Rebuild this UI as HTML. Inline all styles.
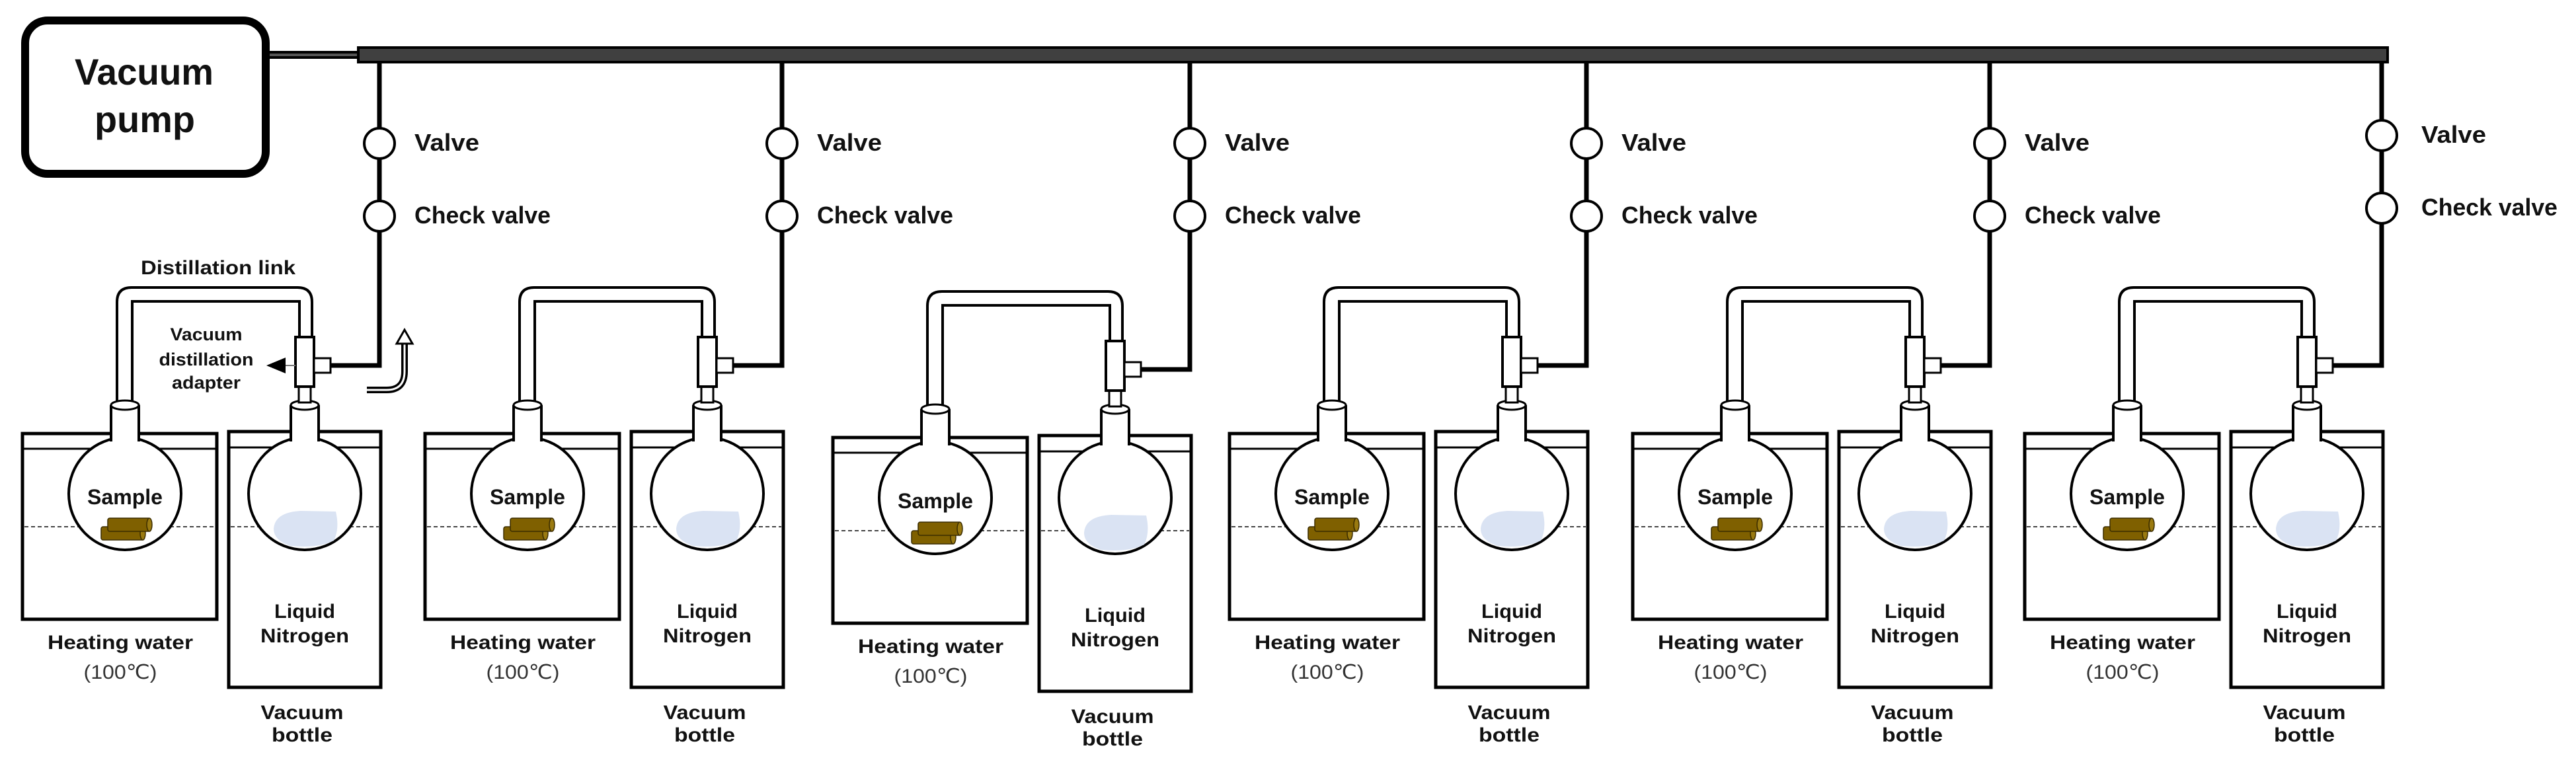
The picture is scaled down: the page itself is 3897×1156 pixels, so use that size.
<!DOCTYPE html>
<html><head><meta charset="utf-8"><style>
html,body{margin:0;padding:0;background:#fff;}
svg{display:block;}
text{font-family:"Liberation Sans",Arial,sans-serif;font-weight:bold;fill:#111;}
.n{font-weight:normal;fill:#333;}
</style></head><body>
<svg width="3897" height="1156" viewBox="0 0 3897 1156" xmlns="http://www.w3.org/2000/svg">
<defs>
<g id="body">
  <path d="M500,553 H574 V95" fill="none" stroke="#000" stroke-width="7"/>
  <rect x="34" y="656" width="294" height="281" fill="#fff" stroke="#000" stroke-width="5"/>
  <line x1="36" y1="679" x2="326" y2="679" stroke="#000" stroke-width="3"/>
  <line x1="37" y1="797" x2="325" y2="797" stroke="#444" stroke-width="2" stroke-dasharray="6,4"/>
  <rect x="346" y="653" width="230" height="387" fill="#fff" stroke="#000" stroke-width="5"/>
  <line x1="348" y1="677" x2="574" y2="677" stroke="#000" stroke-width="3"/>
  <line x1="349" y1="797" x2="573" y2="797" stroke="#444" stroke-width="2" stroke-dasharray="6,4"/>
  <path d="M177,613 V457 Q177,435 199,435 H450 Q472,435 472,457 V512" fill="none" stroke="#000" stroke-width="4"/>
  <path d="M200,613 V456 H453 V512" fill="none" stroke="#000" stroke-width="4"/>
  <circle cx="189" cy="747" r="85" fill="#fff" stroke="#000" stroke-width="4"/>
  <rect x="169" y="613" width="40" height="58" fill="#fff"/>
  <path d="M168,668 V613 M210,613 V668" stroke="#000" stroke-width="4" fill="none"/>
  <ellipse cx="189" cy="613" rx="21" ry="7" fill="#fff" stroke="#000" stroke-width="3"/>
  <circle cx="461" cy="747" r="85" fill="#fff" stroke="#000" stroke-width="4"/>
  <rect x="441" y="613" width="40" height="58" fill="#fff"/>
  <path d="M440,668 V613 M482,613 V668" stroke="#000" stroke-width="4" fill="none"/>
  <ellipse cx="461" cy="613" rx="21" ry="7" fill="#fff" stroke="#000" stroke-width="3"/>
  <rect x="452" y="585" width="18" height="24" fill="#fff" stroke="#000" stroke-width="3"/>
  <rect x="447" y="510" width="28" height="75" fill="#fff" stroke="#000" stroke-width="4"/>
  <rect x="475" y="542" width="25" height="22" fill="#fff" stroke="#000" stroke-width="3"/>
  <path d="M414,800 Q416,775 455,773 L508,774 Q514,800 505,818 Q480,830 440,826 Q414,818 414,800 Z" fill="#dae3f3"/>
  <rect x="153" y="797" width="65" height="20" rx="3" fill="#7f6000" stroke="#3a2c00" stroke-width="1.5"/>
  <ellipse cx="216" cy="807" rx="4" ry="10" fill="#9a7a10" stroke="#3a2c00" stroke-width="1.5"/>
  <rect x="163" y="784" width="65" height="20" rx="3" fill="#7f6000" stroke="#3a2c00" stroke-width="1.5"/>
  <ellipse cx="226" cy="794" rx="4" ry="10" fill="#9a7a10" stroke="#3a2c00" stroke-width="1.5"/>
</g>
<g id="valves">
  <circle cx="574" cy="217" r="23" fill="#fff" stroke="#000" stroke-width="4"/>
  <circle cx="574" cy="327" r="23" fill="#fff" stroke="#000" stroke-width="4"/>
</g>
</defs>

<rect x="38" y="31" width="364" height="232" rx="34" fill="#fff" stroke="#000" stroke-width="12"/>
<text x="113" y="128" font-size="56" textLength="210" lengthAdjust="spacingAndGlyphs">Vacuum</text>
<text x="143" y="200" font-size="56" textLength="152" lengthAdjust="spacingAndGlyphs">pump</text>
<rect x="408" y="77" width="134" height="12" fill="#000"/>
<rect x="408" y="81" width="134" height="4" fill="#555"/>
<rect x="1796.5" y="90" width="7" height="20" fill="#000"/>
<rect x="542" y="72" width="3070" height="22" fill="#404040" stroke="#000" stroke-width="4"/>

<use href="#body" x="0" y="0"/>
<use href="#valves" x="0" y="0"/>
<use href="#body" x="609" y="0"/>
<use href="#valves" x="609" y="0"/>
<use href="#body" x="1226" y="6"/>
<use href="#valves" x="1226" y="0"/>
<use href="#body" x="1826" y="0"/>
<use href="#valves" x="1826" y="0"/>
<use href="#body" x="2436" y="0"/>
<use href="#valves" x="2436" y="0"/>
<use href="#body" x="3029" y="0"/>
<use href="#valves" x="3029" y="-12"/>

<text x="213" y="415" font-size="30" textLength="234" lengthAdjust="spacingAndGlyphs">Distillation link</text>
<text x="312" y="515" font-size="27" text-anchor="middle" textLength="109" lengthAdjust="spacingAndGlyphs">Vacuum</text>
<text x="312" y="553" font-size="27" text-anchor="middle" textLength="143" lengthAdjust="spacingAndGlyphs">distillation</text>
<text x="312" y="588" font-size="27" text-anchor="middle" textLength="104" lengthAdjust="spacingAndGlyphs">adapter</text>
<line x1="447" y1="553" x2="428" y2="553" stroke="#777" stroke-width="2"/>
<polygon points="403,553 432,541 432,565" fill="#000"/>
<path d="M555,590 H585 Q612,590 612,562 V518" fill="none" stroke="#000" stroke-width="10"/>
<path d="M555,590 H585 Q612,590 612,562 V518" fill="none" stroke="#fff" stroke-width="3"/>
<polygon points="612,499 600,520 624,520" fill="#fff" stroke="#000" stroke-width="3"/>

<g>
<text x="627" y="228" font-size="36" textLength="98" lengthAdjust="spacingAndGlyphs">Valve</text>
<text x="627" y="338" font-size="36" textLength="206" lengthAdjust="spacingAndGlyphs">Check valve</text>
<text x="189" y="763" font-size="32" text-anchor="middle" textLength="114" lengthAdjust="spacingAndGlyphs">Sample</text>
<text x="182" y="982" font-size="30" text-anchor="middle" textLength="220" lengthAdjust="spacingAndGlyphs">Heating water</text>
<text class="n" x="182" y="1027" font-size="30" text-anchor="middle" textLength="111" lengthAdjust="spacingAndGlyphs">(100℃)</text>
<text x="461" y="935" font-size="30" text-anchor="middle" textLength="92" lengthAdjust="spacingAndGlyphs">Liquid</text>
<text x="461" y="972" font-size="30" text-anchor="middle" textLength="134" lengthAdjust="spacingAndGlyphs">Nitrogen</text>
<text x="457" y="1088" font-size="30" text-anchor="middle" textLength="125" lengthAdjust="spacingAndGlyphs">Vacuum</text>
<text x="457" y="1122" font-size="30" text-anchor="middle" textLength="92" lengthAdjust="spacingAndGlyphs">bottle</text>
</g>
<g transform="translate(609,0)">
<text x="627" y="228" font-size="36" textLength="98" lengthAdjust="spacingAndGlyphs">Valve</text>
<text x="627" y="338" font-size="36" textLength="206" lengthAdjust="spacingAndGlyphs">Check valve</text>
<text x="189" y="763" font-size="32" text-anchor="middle" textLength="114" lengthAdjust="spacingAndGlyphs">Sample</text>
<text x="182" y="982" font-size="30" text-anchor="middle" textLength="220" lengthAdjust="spacingAndGlyphs">Heating water</text>
<text class="n" x="182" y="1027" font-size="30" text-anchor="middle" textLength="111" lengthAdjust="spacingAndGlyphs">(100℃)</text>
<text x="461" y="935" font-size="30" text-anchor="middle" textLength="92" lengthAdjust="spacingAndGlyphs">Liquid</text>
<text x="461" y="972" font-size="30" text-anchor="middle" textLength="134" lengthAdjust="spacingAndGlyphs">Nitrogen</text>
<text x="457" y="1088" font-size="30" text-anchor="middle" textLength="125" lengthAdjust="spacingAndGlyphs">Vacuum</text>
<text x="457" y="1122" font-size="30" text-anchor="middle" textLength="92" lengthAdjust="spacingAndGlyphs">bottle</text>
</g>
<g transform="translate(1226,0)">
<text x="627" y="228" font-size="36" textLength="98" lengthAdjust="spacingAndGlyphs">Valve</text>
<text x="627" y="338" font-size="36" textLength="206" lengthAdjust="spacingAndGlyphs">Check valve</text>
</g>
<g transform="translate(1226,6)">
<text x="189" y="763" font-size="32" text-anchor="middle" textLength="114" lengthAdjust="spacingAndGlyphs">Sample</text>
<text x="182" y="982" font-size="30" text-anchor="middle" textLength="220" lengthAdjust="spacingAndGlyphs">Heating water</text>
<text class="n" x="182" y="1027" font-size="30" text-anchor="middle" textLength="111" lengthAdjust="spacingAndGlyphs">(100℃)</text>
<text x="461" y="935" font-size="30" text-anchor="middle" textLength="92" lengthAdjust="spacingAndGlyphs">Liquid</text>
<text x="461" y="972" font-size="30" text-anchor="middle" textLength="134" lengthAdjust="spacingAndGlyphs">Nitrogen</text>
<text x="457" y="1088" font-size="30" text-anchor="middle" textLength="125" lengthAdjust="spacingAndGlyphs">Vacuum</text>
<text x="457" y="1122" font-size="30" text-anchor="middle" textLength="92" lengthAdjust="spacingAndGlyphs">bottle</text>
</g>
<g transform="translate(1826,0)">
<text x="627" y="228" font-size="36" textLength="98" lengthAdjust="spacingAndGlyphs">Valve</text>
<text x="627" y="338" font-size="36" textLength="206" lengthAdjust="spacingAndGlyphs">Check valve</text>
<text x="189" y="763" font-size="32" text-anchor="middle" textLength="114" lengthAdjust="spacingAndGlyphs">Sample</text>
<text x="182" y="982" font-size="30" text-anchor="middle" textLength="220" lengthAdjust="spacingAndGlyphs">Heating water</text>
<text class="n" x="182" y="1027" font-size="30" text-anchor="middle" textLength="111" lengthAdjust="spacingAndGlyphs">(100℃)</text>
<text x="461" y="935" font-size="30" text-anchor="middle" textLength="92" lengthAdjust="spacingAndGlyphs">Liquid</text>
<text x="461" y="972" font-size="30" text-anchor="middle" textLength="134" lengthAdjust="spacingAndGlyphs">Nitrogen</text>
<text x="457" y="1088" font-size="30" text-anchor="middle" textLength="125" lengthAdjust="spacingAndGlyphs">Vacuum</text>
<text x="457" y="1122" font-size="30" text-anchor="middle" textLength="92" lengthAdjust="spacingAndGlyphs">bottle</text>
</g>
<g transform="translate(2436,0)">
<text x="627" y="228" font-size="36" textLength="98" lengthAdjust="spacingAndGlyphs">Valve</text>
<text x="627" y="338" font-size="36" textLength="206" lengthAdjust="spacingAndGlyphs">Check valve</text>
<text x="189" y="763" font-size="32" text-anchor="middle" textLength="114" lengthAdjust="spacingAndGlyphs">Sample</text>
<text x="182" y="982" font-size="30" text-anchor="middle" textLength="220" lengthAdjust="spacingAndGlyphs">Heating water</text>
<text class="n" x="182" y="1027" font-size="30" text-anchor="middle" textLength="111" lengthAdjust="spacingAndGlyphs">(100℃)</text>
<text x="461" y="935" font-size="30" text-anchor="middle" textLength="92" lengthAdjust="spacingAndGlyphs">Liquid</text>
<text x="461" y="972" font-size="30" text-anchor="middle" textLength="134" lengthAdjust="spacingAndGlyphs">Nitrogen</text>
<text x="457" y="1088" font-size="30" text-anchor="middle" textLength="125" lengthAdjust="spacingAndGlyphs">Vacuum</text>
<text x="457" y="1122" font-size="30" text-anchor="middle" textLength="92" lengthAdjust="spacingAndGlyphs">bottle</text>
</g>
<g transform="translate(3029,0)">
<text x="634" y="216" font-size="36" textLength="98" lengthAdjust="spacingAndGlyphs">Valve</text>
<text x="634" y="326" font-size="36" textLength="206" lengthAdjust="spacingAndGlyphs">Check valve</text>
<text x="189" y="763" font-size="32" text-anchor="middle" textLength="114" lengthAdjust="spacingAndGlyphs">Sample</text>
<text x="182" y="982" font-size="30" text-anchor="middle" textLength="220" lengthAdjust="spacingAndGlyphs">Heating water</text>
<text class="n" x="182" y="1027" font-size="30" text-anchor="middle" textLength="111" lengthAdjust="spacingAndGlyphs">(100℃)</text>
<text x="461" y="935" font-size="30" text-anchor="middle" textLength="92" lengthAdjust="spacingAndGlyphs">Liquid</text>
<text x="461" y="972" font-size="30" text-anchor="middle" textLength="134" lengthAdjust="spacingAndGlyphs">Nitrogen</text>
<text x="457" y="1088" font-size="30" text-anchor="middle" textLength="125" lengthAdjust="spacingAndGlyphs">Vacuum</text>
<text x="457" y="1122" font-size="30" text-anchor="middle" textLength="92" lengthAdjust="spacingAndGlyphs">bottle</text>
</g>
</svg>
</body></html>
